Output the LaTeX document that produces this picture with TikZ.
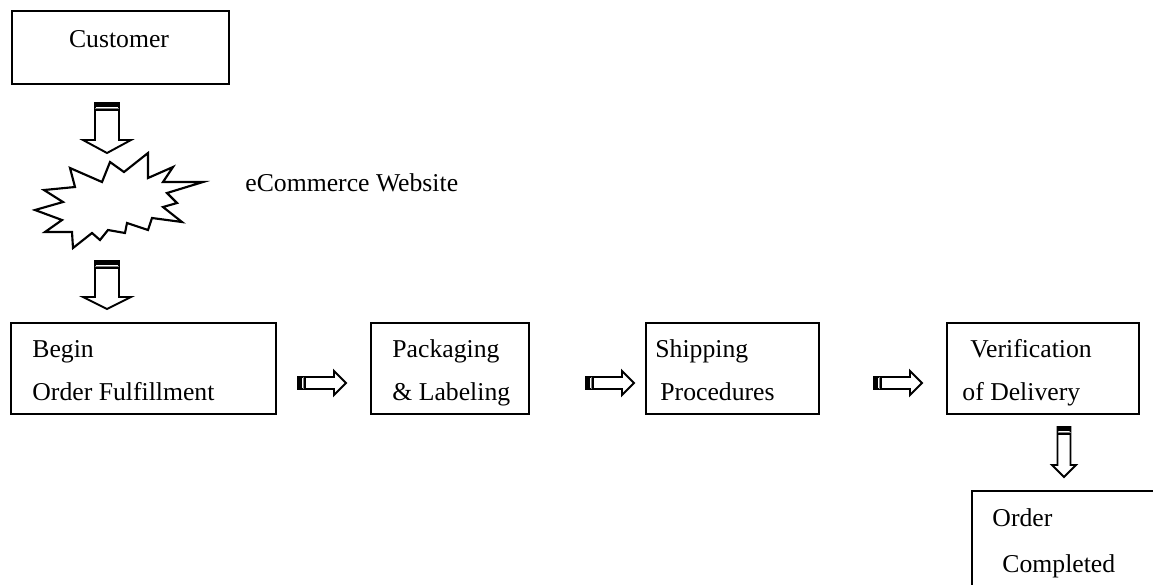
\documentclass[tikz,border=0pt]{standalone}
\usepackage{fontspec}
\setmainfont{Liberation Serif}
\newcommand\pxu{0.467pt}
\tikzset{
  box/.style={draw, line width=1pt, anchor=north west, inner sep=0pt},
  txt/.style={anchor=base west, inner sep=0pt, font=\fontsize{12}{14}\selectfont},
  outl/.style={draw, line width=0.9pt, line join=miter, fill=white},
  pics/barrow/.style n args={4}{code={
    \path[outl] (0,-#2) -- (#1-#4,-#2) -- (#1-#4,-#3) -- (#1,0) -- (#1-#4,#3) -- (#1-#4,#2) -- (0,#2) -- cycle;
    \fill[black] (0,-#2) rectangle (3.5,#2);
    \fill[gray] (4.5,-#2) rectangle (5.5,#2);
    \fill[black] (6,-#2) rectangle (7.5,#2);
  }}
}
\begin{document}
\begin{tikzpicture}[x=\pxu, y=-\pxu]
\clip (0,0) rectangle (1153,584);
\fill[white] (0,0) rectangle (1153,584);

% Customer
\node[box, minimum width=217*\pxu, minimum height=73*\pxu] (cust) at (11,10) {};
\node[txt, anchor=base] (custt) at (119,47) {Customer};

% arrow customer -> website
\coordinate (a1) at (107,103);
\pic at (a1) [rotate=-90] {barrow={50}{12}{24}{13}};

% starburst
\path[draw, line width=1pt, line join=miter, fill=white] (35,210) -- (62,220) -- (45,232) -- (72,232) -- (73,248) -- (92,233) -- (100,240) -- (108,230) -- (125,233) -- (127,223) -- (148,230) -- (152,218) -- (182,222) -- (163,207) -- (177,203) -- (167,193) -- (203,182) -- (163,182) -- (173,167) -- (148,178) -- (148,153) -- (124,172) -- (110,162) -- (102,182) -- (70,168) -- (75,187) -- (44,190) -- (63,202) -- cycle;
\coordinate (web) at (118,200);
\node[txt] (webt) at (245,191) {eCommerce Website};

% arrow website -> begin
\coordinate (a2) at (107,261);
\pic at (a2) [rotate=-90] {barrow={48}{12}{24}{12}};

% row boxes
\node[box, minimum width=265*\pxu, minimum height=91*\pxu] (b1) at (10,322) {};
\node[txt] at (32,357) {Begin};
\node[txt] at (32,400) {Order Fulfillment};

\node[box, minimum width=158*\pxu, minimum height=91*\pxu] (b2) at (370,322) {};
\node[txt] at (392,357) {Packaging};
\node[txt] at (392,400) {\& Labeling};

\node[box, minimum width=173*\pxu, minimum height=91*\pxu] (b3) at (645,322) {};
\node[txt] at (655,357) {Shipping};
\node[txt] at (660,400) {Procedures};

\node[box, minimum width=192*\pxu, minimum height=91*\pxu] (b4) at (946,322) {};
\node[txt] at (970,357) {Verification};
\node[txt] at (962,400) {of Delivery};

% horizontal arrows
\coordinate (h1) at (298,383);
\coordinate (h2) at (586,383);
\coordinate (h3) at (874,383);
\pic at (h1) {barrow={48}{6}{12}{12}};
\pic at (h2) {barrow={48}{6}{12}{12}};
\pic at (h3) {barrow={48}{6}{12}{12}};

% down arrow to order completed
\coordinate (a3) at (1064,427);
\pic at (a3) [rotate=-90] {barrow={50}{6.5}{12}{12}};

\node[box, minimum width=200*\pxu, minimum height=120*\pxu] (b5) at (971,490) {};
\node[txt] at (992,526) {Order};
\node[txt] at (1002,572) {Completed};
\end{tikzpicture}
\end{document}
